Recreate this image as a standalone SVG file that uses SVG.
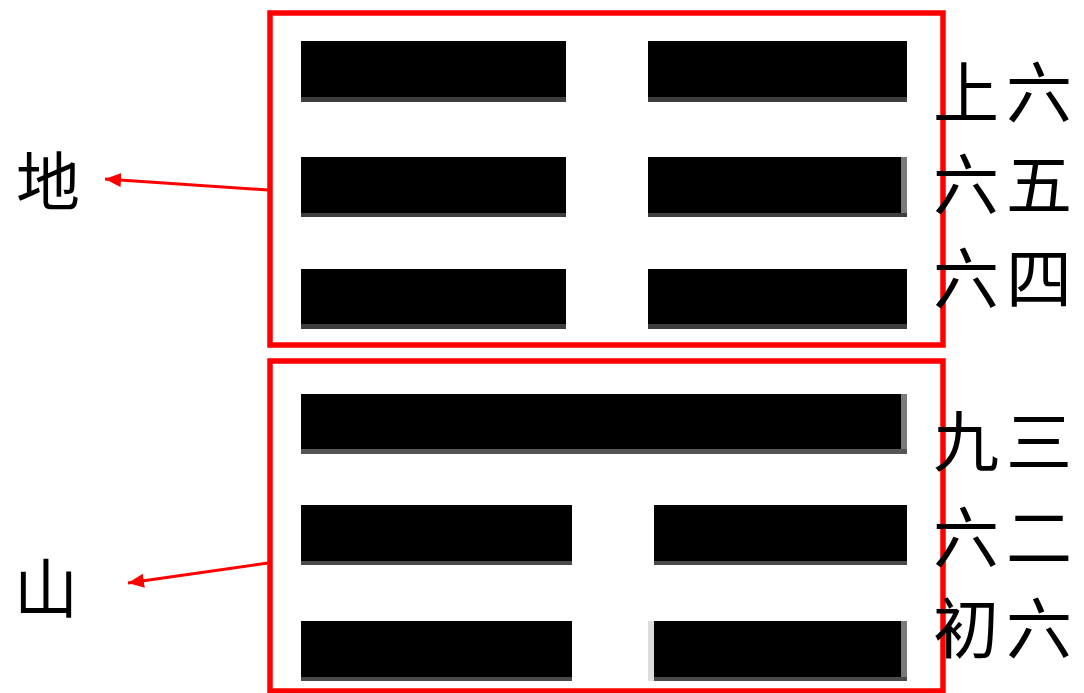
<svg xmlns="http://www.w3.org/2000/svg" width="1084" height="693" viewBox="0 0 1084 693">
  <style>
    .frame { fill: none; stroke: #ff0000; stroke-width: 5.5; }
    .bar { fill: #000000; }
    .shade { fill: #3e3e3e; }
    .edge { fill: #7a7a7a; }
    .conn { stroke: #ff0000; stroke-width: 3; fill: none; }
    .yao { font-family: "Noto Sans CJK SC", "Noto Sans CJK TC", sans-serif; font-size: 66px; fill: #000; letter-spacing: 7px; }
    .big { font-family: "Noto Sans CJK SC", "Noto Sans CJK TC", sans-serif; font-size: 64px; fill: #000; text-anchor: middle; }
  </style>
  <defs>
    <marker id="arrow" markerUnits="userSpaceOnUse" markerWidth="18" markerHeight="16" refX="16" refY="7" orient="auto">
      <path d="M0,0 L16,7 L0,14 Z" fill="#ff0000"/>
    </marker>
  </defs>
  <rect width="1084" height="693" fill="#ffffff"/>

  <g id="upper-trigram">
    <rect class="frame" x="270" y="13" width="673" height="332"/>
    <g id="line-6">
      <rect class="shade" x="301" y="41" width="265" height="61"/>
      <rect class="bar" x="301" y="41" width="265" height="56"/>
      <rect class="shade" x="648" y="41" width="259" height="61"/>
      <rect class="bar" x="648" y="41" width="259" height="56"/>
    </g>
    <g id="line-5">
      <rect class="shade" x="301" y="157" width="265" height="60"/>
      <rect class="bar" x="301" y="157" width="265" height="56"/>
      <rect class="edge" x="648" y="157" width="259" height="60"/>
      <rect class="shade" x="648" y="213" width="259" height="4"/>
      <rect class="bar" x="648" y="157" width="253" height="56"/>
    </g>
    <g id="line-4">
      <rect class="shade" x="301" y="269" width="265" height="60"/>
      <rect class="bar" x="301" y="269" width="265" height="55"/>
      <rect class="shade" x="648" y="269" width="259" height="60"/>
      <rect class="bar" x="648" y="269" width="259" height="55"/>
    </g>
  </g>

  <g id="lower-trigram">
    <rect class="frame" x="270" y="361" width="673" height="330"/>
    <g id="line-3">
      <rect class="edge" x="301" y="394" width="606" height="60"/>
      <rect class="shade" x="301" y="449" width="606" height="5" style="fill:#555555"/>
      <rect class="bar" x="301" y="394" width="600" height="55"/>
    </g>
    <g id="line-2">
      <rect class="shade" x="301" y="505" width="271" height="60" style="fill:#4a4a4a"/>
      <rect class="bar" x="301" y="505" width="271" height="56"/>
      <rect class="shade" x="654" y="505" width="253" height="60" style="fill:#4a4a4a"/>
      <rect class="bar" x="654" y="505" width="253" height="56"/>
    </g>
    <g id="line-1">
      <rect class="shade" x="301" y="621" width="271" height="60" style="fill:#4a4a4a"/>
      <rect class="bar" x="301" y="621" width="271" height="56"/>
      <rect x="648" y="621" width="6" height="60" fill="#dddddd"/>
      <rect class="edge" x="654" y="621" width="253" height="60"/>
      <rect class="shade" x="654" y="677" width="253" height="4" style="fill:#4a4a4a"/>
      <rect class="bar" x="654" y="621" width="247" height="56"/>
    </g>
  </g>

  <g id="yao-labels">
    <text id="label-shang6" class="yao" x="933" y="117">上六</text>
    <text id="label-6-5" class="yao" x="933" y="209">六五</text>
    <text id="label-6-4" class="yao" x="933" y="303">六四</text>
    <text id="label-9-3" class="yao" x="933" y="466">九三</text>
    <text id="label-6-2" class="yao" x="933" y="562">六二</text>
    <text id="label-chu6" class="yao" x="933" y="653">初六</text>
  </g>

  <g id="node-di">
    <text class="big" x="48" y="205">地</text>
  </g>
  <g id="node-shan">
    <text class="big" x="46" y="612">山</text>
  </g>

  <g id="connectors">
    <line class="conn" x1="268" y1="190" x2="105" y2="179" marker-end="url(#arrow)"/>
    <line class="conn" x1="268" y1="563" x2="128" y2="583" marker-end="url(#arrow)"/>
  </g>
</svg>
